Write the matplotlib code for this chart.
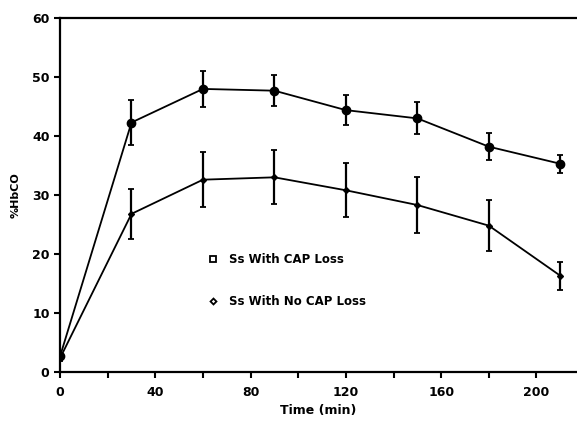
import matplotlib
matplotlib.use('Agg')
import matplotlib.pyplot as plt
from matplotlib.lines import Line2D
import numpy as np

# time points (min)
time = [0, 30, 60, 90, 120, 150, 180, 210]

# Ss with CAP loss
cap_loss = [2.6, 42.3, 48.0, 47.7, 44.4, 43.0, 38.2, 35.3]
cap_loss_err = [0.6, 3.9, 3.1, 2.6, 2.6, 2.7, 2.3, 1.5]

# Ss with no CAP loss
no_cap_loss = [2.3, 26.8, 32.6, 33.0, 30.8, 28.3, 24.8, 16.3]
no_cap_loss_err = [0.5, 4.2, 4.7, 4.6, 4.6, 4.8, 4.3, 2.4]

plt.rcParams['font.family'] = 'DejaVu Sans'
plt.rcParams['font.weight'] = 'bold'

fig = plt.figure(figsize=(5.77, 4.23), dpi=100)
ax = fig.add_axes([0.104, 0.121, 0.896, 0.836])

ax.errorbar(time, cap_loss, yerr=cap_loss_err, color='black', lw=1.3,
            marker='o', ms=6, capsize=2.2, elinewidth=1.6, capthick=1.3)
ax.errorbar(time, no_cap_loss, yerr=no_cap_loss_err, color='black', lw=1.3,
            marker='D', ms=3, capsize=2.2, elinewidth=1.6, capthick=1.3)

ax.set_xlim(0, 217)
ax.set_ylim(0, 60)
ax.set_xticks(np.arange(0, 201, 40))
ax.set_xticks(np.arange(20, 201, 40), minor=True)
ax.set_yticks(np.arange(0, 61, 10))
ax.tick_params(which='both', direction='out', length=4, width=1.5,
               labelsize=9)
ax.tick_params(axis='x', pad=6)

ax.spines['right'].set_visible(False)
for s in ['left', 'bottom', 'top']:
    ax.spines[s].set_linewidth(1.6)

ax.set_xlabel('Time (min)', fontsize=9, fontweight='bold', labelpad=4)
ax.set_ylabel('%HbCO', fontsize=8, fontweight='bold', labelpad=8)

handles = [
    Line2D([], [], ls='none', marker='s', ms=4, mfc='white', mec='black', mew=1.3),
    Line2D([], [], ls='none', marker='D', ms=3, mfc='white', mec='black', mew=1.3),
]
ax.legend(handles, ['Ss With CAP Loss', 'Ss With No CAP Loss'],
          loc='upper left', bbox_to_anchor=(0.262, 0.365), frameon=False,
          labelspacing=2.45, handletextpad=0.7, handlelength=1.2,
          prop={'size': 8.5, 'weight': 'bold'})

plt.savefig('out.png', dpi=100)
